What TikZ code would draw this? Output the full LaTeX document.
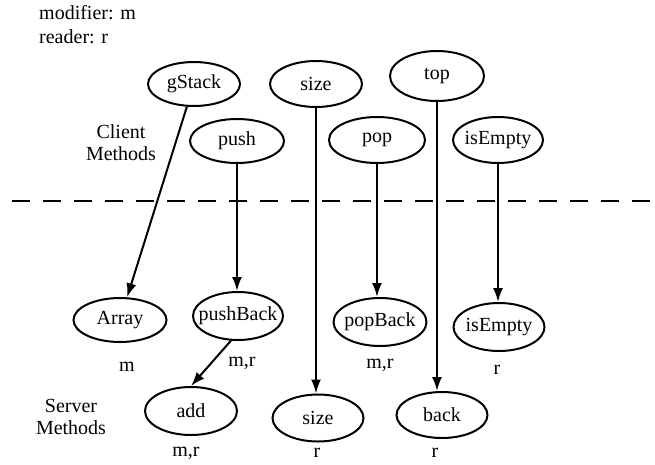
\documentclass[tikz,border=0pt]{standalone}
\usepackage{fontspec}
\setmainfont{Liberation Serif}
\usetikzlibrary{shapes.geometric,arrows.meta}
\newcommand{\zb}[1]{\makebox[0pt]{#1}}
\tikzset{
  meth/.style 2 args={ellipse, draw, line width=2pt, inner sep=0pt,
    minimum width=#1pt, minimum height=#2pt},
  conn/.style={line width=2pt, -{Latex[length=14pt,width=10pt]}},
  lbl/.style={inner sep=0pt},
  divider/.style={line width=2pt, dash pattern=on 18pt off 13pt}
}
\begin{document}
\begin{tikzpicture}[x=1pt,y=-1pt,font=\fontsize{20}{22}\selectfont]
\useasboundingbox (0,0) rectangle (655,464);
% legend
\node[lbl, anchor=base west] (leg1) at (39,19) {modifier: m};
\node[lbl, anchor=base west] (leg2) at (39,43) {reader: r};
% group labels
\node[lbl, align=center] (client) at (121,143) {Client\\Methods};
\node[lbl, align=center] (server) at (71,417) {Server\\Methods};
% divider
\coordinate (dl) at (12,201);
\coordinate (dr) at (652,201);
\draw[divider] (dl) -- (dr);
% client methods
\node[meth={92}{44}] (gstack) at (194,84) {\zb{gStack}};
\node[meth={92}{46}] (sizeT) at (316,84) {\zb{size}};
\node[meth={94}{50}] (topC) at (437,76) {\zb{top}};
\node[meth={94}{44}] (push) at (237,141) {\zb{push}};
\node[meth={96}{46}] (pop) at (377,140) {\zb{pop}};
\node[meth={90}{46}] (isEmptyT) at (498,140) {\zb{isEmpty}};
% server methods
\node[meth={93}{44}] (array) at (120,320) {\zb{Array}};
\node[meth={90}{48}] (pushback) at (238,316) {\zb{pushBack}};
\node[meth={93}{48}] (popback) at (380,322) {\zb{popBack}};
\node[meth={91}{48}] (isEmptyB) at (499,327) {\zb{isEmpty}};
\node[meth={92}{48}] (add) at (191,411) {\zb{add}};
\node[meth={91}{47}] (sizeB) at (318,418) {\zb{size}};
\node[meth={91}{46}] (back) at (442,415) {\zb{back}};
% access labels
\node[lbl] (larray) at (127,367) {m};
\node[lbl] (lpushback) at (242,363) {m,r};
\node[lbl] (lpopback) at (380,365) {m,r};
\node[lbl] (lisempty) at (497,370) {r};
\node[lbl] (ladd) at (186,453) {m,r};
\node[lbl] (lsize) at (317,453) {r};
\node[lbl] (lback) at (435,453) {r};
% connectors
\draw[conn] (gstack) -- (array);
\draw[conn] (push.south) -- (push.south |- pushback.north);
\draw[conn] (sizeT.south) -- (sizeT.south |- sizeB.north);
\draw[conn] (pop.south) -- (pop.south |- popback.north);
\draw[conn] (topC.south) -- (topC.south |- back.north);
\draw[conn] (isEmptyT.south) -- (isEmptyT.south |- isEmptyB.north);
\draw[conn] (pushback.254) -- (add.north);
\end{tikzpicture}
\end{document}
